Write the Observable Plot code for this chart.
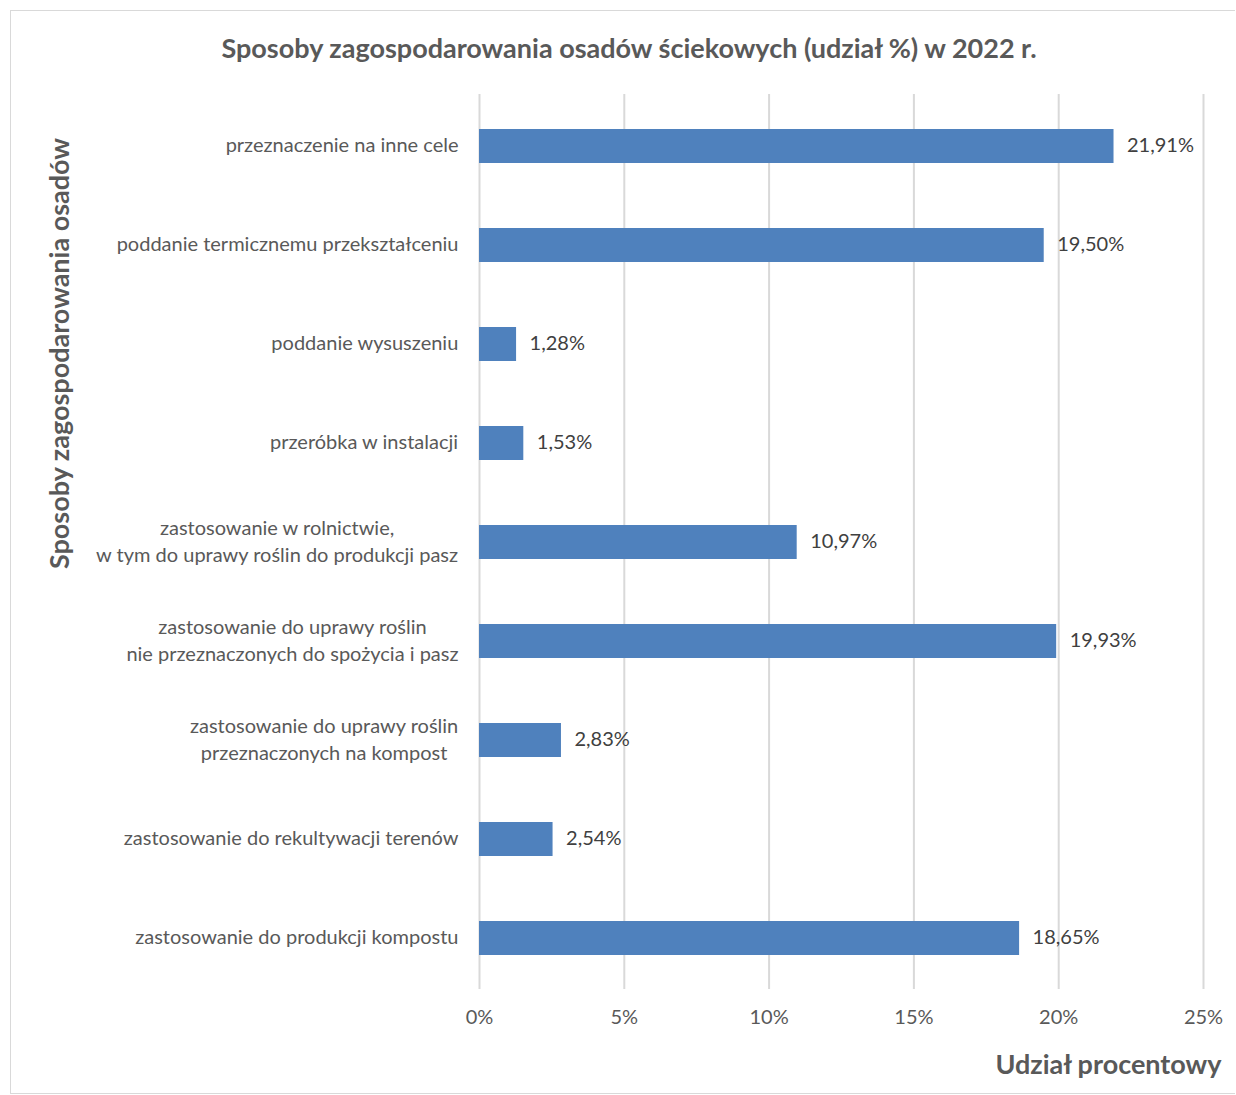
<!DOCTYPE html>
<html>
<head>
<meta charset="utf-8">
<script src="https://cdn.jsdelivr.net/npm/d3@7"></script>
<script src="https://cdn.jsdelivr.net/npm/@observablehq/plot@0.6"></script>
<style>
  html, body { margin: 0; padding: 0; background: #fff; }
  #frame {
    position: absolute; left: 10px; top: 10px; width: 1224px; height: 1082px;
    border: 1px solid #d9d9d9; border-right: none; background: #fff;
    font-family: Lato, "Open Sans", sans-serif;
  }
  #title {
    height: 73px; line-height: 73px; text-align: center;
    font-size: 27px; font-weight: bold; color: #595959; padding-left: 12px;
  }
  svg { display: block; }
</style>
</head>
<body>
<div id="frame">
  <div id="title">Sposoby zagospodarowania osadów ściekowych (udział %) w 2022 r.</div>
  <div id="chart"></div>
</div>
<script>
const categories = [
  "przeznaczenie na inne cele",
  "poddanie termicznemu przekształceniu",
  "poddanie wysuszeniu",
  "przeróbka w instalacji",
  "zastosowanie w rolnictwie,\nw tym do uprawy roślin do produkcji pasz",
  "zastosowanie do uprawy roślin\nnie przeznaczonych do spożycia i pasz",
  "zastosowanie do uprawy roślin\nprzeznaczonych na kompost",
  "zastosowanie do rekultywacji terenów",
  "zastosowanie do produkcji kompostu"
];
const values = [21.91, 19.50, 1.28, 1.53, 10.97, 19.93, 2.83, 2.54, 18.65];
const xTicks = [0, 5, 10, 15, 20, 25];
const xTitle = "Udział procentowy";
const yTitle = "Sposoby zagospodarowania osadów";

const data = categories.map((c, i) => ({category: c, value: values[i]}));
const fmt = v => v.toFixed(2).replace(".", ",") + "%";

const font = "Lato, 'Open Sans', sans-serif";
const labelSize = 20;
const canvas = document.createElement("canvas");
const ctx = canvas.getContext("2d");
ctx.font = `${labelSize}px Lato`;
const blockWidth = c => Math.max(...c.split("\n").map(l => ctx.measureText(l).width));

const tickGap = 21;
const labelMarks = categories.map(c => Plot.text([c], {
  y: d => d, text: d => d, frameAnchor: "left", textAnchor: "middle",
  lineAnchor: "middle", lineHeight: 1.35, dx: -(tickGap + blockWidth(c) / 2), dy: -3,
  fill: "#595959", fontSize: labelSize
}));

const chart = Plot.plot({
  width: 1224,
  height: 1007,
  marginLeft: 468,
  marginRight: 32,
  marginTop: 10,
  marginBottom: 102,
  style: {fontFamily: font, fontSize: "20px", color: "#595959", background: "#fff"},
  x: {domain: [0, 25], ticks: xTicks, tickFormat: d => d + "%", label: null},
  y: {type: "band", domain: categories, paddingInner: 0.66, paddingOuter: 0.33, label: null, axis: null},
  marks: [
    Plot.ruleX(xTicks, {stroke: "#d9d9d9", strokeWidth: 2}),
    Plot.barX(data, {x: "value", y: "category", fill: "#4f81bd"}),
    Plot.text(data, {x: "value", y: "category", text: d => fmt(d.value), dx: 13, dy: -1,
      textAnchor: "start", fill: "#404040", fontSize: 20}),
    Plot.axisX({ticks: xTicks, tickFormat: d => d + "%", tickSize: 0, tickPadding: 20,
      fontSize: 20, fill: "#595959", label: null}),
    ...labelMarks,
    Plot.text([xTitle], {text: d => d, frameAnchor: "bottom-right", textAnchor: "end",
      dx: 18, dy: 84, fontSize: 27, fontWeight: "bold", fill: "#595959"}),
    Plot.text([yTitle], {text: d => d, frameAnchor: "top-left", rotate: -90,
      textAnchor: "middle", dx: -430, dy: 259, fontSize: 27, fontWeight: "bold", fill: "#595959"})
  ]
});
document.getElementById("chart").appendChild(chart);
</script>
</body>
</html>
